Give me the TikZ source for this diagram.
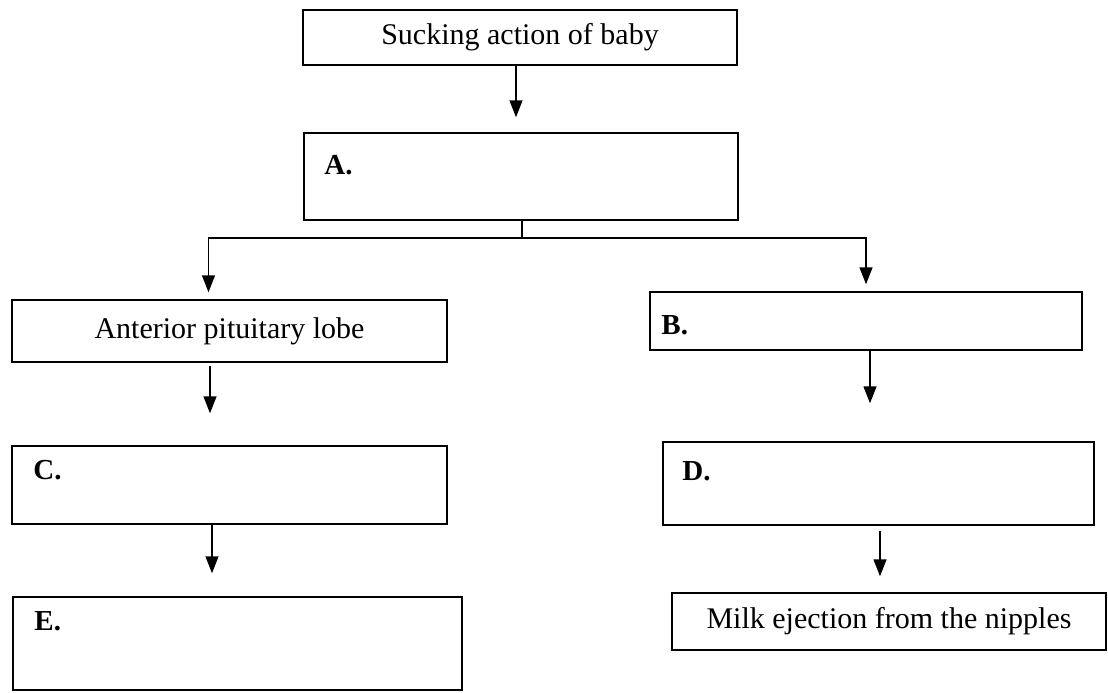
\documentclass[tikz,border=0pt]{standalone}
\usepackage{fontspec}
\setmainfont{Liberation Serif}
\usetikzlibrary{arrows.meta}
\begin{document}
\begin{tikzpicture}[x=1pt,y=-1pt,
  bx/.style={draw, line width=1.5pt, inner sep=0pt, font=\fontsize{30}{35}\selectfont},
  lbl/.style={anchor=base west, inner sep=0pt, font=\fontsize{29}{34}\selectfont\bfseries},
  arr/.style={line width=1.5pt, -{Triangle[width=13pt,length=17pt]}},
  ln/.style={line width=1.5pt}]
\fill[white] (0,0) rectangle (1108,693);
\useasboundingbox (0,0) rectangle (1108,693);
% boxes
\node[bx, minimum width=434pt, minimum height=55pt] (top) at (520,37.5) {Sucking action of baby};
\node[bx, minimum width=434pt, minimum height=87pt] (A) at (521,176.5) {};
\node[bx, minimum width=435pt, minimum height=62pt] (ant) at (229.5,331) {Anterior pituitary lobe};
\node[bx, minimum width=432pt, minimum height=58pt] (B) at (866,321) {};
\node[bx, minimum width=435pt, minimum height=78pt] (C) at (229.5,485) {};
\node[bx, minimum width=431pt, minimum height=83pt] (D) at (878.5,483.5) {};
\node[bx, minimum width=449pt, minimum height=93pt] (E) at (237.5,643.5) {};
\node[bx, minimum width=434pt, minimum height=57pt] (M) at (889,621.5) {Milk ejection from the nipples};
% labels
\node[lbl] (Alab) at ([xshift=21pt,yshift=-42pt]A.north west) {A.};
\node[lbl] (Blab) at ([xshift=12pt,yshift=-43pt]B.north west) {B.};
\node[lbl] (Clab) at ([xshift=22pt,yshift=-34pt]C.north west) {C.};
\node[lbl] (Dlab) at ([xshift=20pt,yshift=-39pt]D.north west) {D.};
\node[lbl] (Elab) at ([xshift=22pt,yshift=-34pt]E.north west) {E.};
% connectors
\draw[arr] ([xshift=-4pt]top.south) -- ([xshift=-5pt,yshift=15pt]A.north);
\coordinate (split) at ([xshift=1pt,yshift=-17pt]A.south);
\draw[ln] ([xshift=1pt]A.south) -- (split);
\draw[arr] (split) -| ([xshift=-21pt,yshift=7pt]ant.north);
\draw[arr] (split) -| ([yshift=7pt]B.north);
\draw[arr] ([xshift=-19.5pt,yshift=-3pt]ant.south) -- ([xshift=-19.5pt,yshift=32pt]C.north);
\draw[arr] ([xshift=-17.5pt]C.south) -- ([xshift=-25.5pt,yshift=23pt]E.north);
\draw[arr] ([xshift=4pt]B.south) -- ([xshift=-8.5pt,yshift=38pt]D.north);
\draw[arr] ([xshift=1.5pt,yshift=-5pt]D.south) -- ([xshift=-9pt,yshift=16pt]M.north);
\end{tikzpicture}
\end{document}
